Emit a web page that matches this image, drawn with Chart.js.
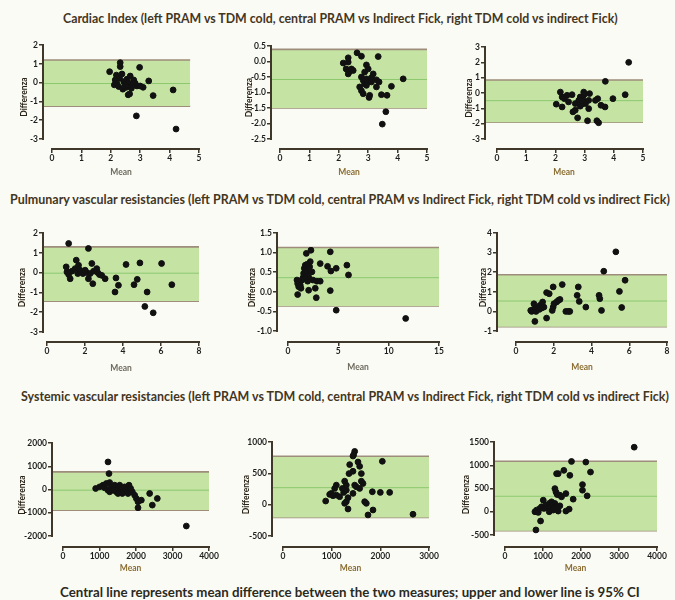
<!DOCTYPE html>
<html>
<head>
<meta charset="utf-8">
<script src="https://cdn.jsdelivr.net/npm/chart.js@4.4.1/dist/chart.umd.min.js"></script>
<style>
  html, body { margin: 0; padding: 0; background: #fbfbf6; }
  body { position: relative; width: 675px; height: 600px; overflow: hidden; font-family: Lato, "Open Sans", sans-serif; }
  .ttl { position: absolute; white-space: nowrap; font-weight: bold; line-height: 1; }
  canvas { position: absolute; }
</style>
</head>
<body>
<script>
// ---- data: [mean, difference] pairs ----
const ciLeft = [[1.96,0.58],[2.32,1.06],[2.32,0.85],[2.19,0.4],[2.15,0.14],[2.2,-0.03],[2.3,0.23],[2.38,0.46],
  [2.44,0.05],[2.49,-0.12],[2.55,0.18],[2.61,-0.03],[2.66,0.35],[2.72,-0.18],[2.78,0.14],[2.83,-0.03],[2.7,-0.3],
  [2.89,-0.18],[2.98,0.81],[3.0,-0.18],[3.1,-0.25],[2.64,-0.6],[2.59,-0.65],[3.29,0.09],[3.44,-0.69],[4.12,-0.39],
  [2.87,-1.77],[4.22,-2.47],[2.12,-0.12],[2.27,-0.21],[2.41,-0.35],[2.53,-0.25]];
const ciCentral = [[2.15,-0.05],[2.32,0.12],[2.32,-0.02],[2.25,-0.24],[2.35,-0.34],[2.43,-0.24],[2.49,-0.29],
  [2.32,-0.4],[2.62,0.28],[2.77,0.17],[2.94,-0.11],[3.0,-0.24],[2.88,-0.34],[2.77,-0.5],[2.83,-0.61],[2.94,-0.56],
  [3.0,-0.66],[2.88,-0.72],[2.71,-0.82],[2.77,-0.94],[2.83,-1.04],[3.05,-1.09],[3.03,-1.16],[3.11,-0.52],
  [3.17,-0.4],[3.28,-0.59],[3.34,0.16],[3.28,-0.82],[3.37,-0.66],[3.45,-1.07],[3.64,-1.09],[3.79,-0.8],
  [4.19,-0.56],[3.6,-1.62],[3.48,-2.02],[3.11,-0.66],[2.94,-0.77]];
const ciRight = [[4.51,2.0],[3.71,0.76],[4.39,-0.11],[3.97,-0.37],[2.03,-0.73],[2.17,0.06],[2.23,-0.26],
  [2.31,-0.37],[2.23,-0.91],[2.4,-0.15],[2.45,-0.58],[2.57,-0.11],[2.6,-1.23],[2.68,-1.12],[2.76,-1.62],
  [2.68,-0.69],[2.8,-0.48],[2.85,-0.86],[2.91,-0.26],[2.97,0.06],[2.99,-0.09],[2.94,-0.37],[2.97,-0.58],
  [3.03,-0.69],[2.91,-0.73],[3.14,-0.48],[3.14,-1.02],[3.1,-1.81],[3.17,-0.04],[3.37,-0.48],[3.45,-0.37],
  [3.42,-1.81],[3.48,-1.94],[3.56,-0.8],[3.7,-0.91],[2.85,-0.26],[2.91,-0.48]];

const pvrLeft = [[1.14,1.47],[2.18,1.22],[1.01,0.29],[1.05,0.03],[1.14,-0.1],[1.22,-0.31],[1.31,0.07],[1.48,0.2],
  [1.54,0.63],[1.66,0.37],[1.62,-0.05],[1.75,0.12],[1.89,-0.05],[2.01,0.12],[2.1,0],[2.18,-0.31],[2.27,-0.05],
  [2.36,0.46],[2.41,-0.56],[2.45,0.07],[2.62,0.2],[2.67,0],[2.76,-0.1],[2.88,-0.14],[3.06,-0.31],[3.58,-0.98],
  [3.63,-0.27],[3.76,-0.64],[4.16,0.41],[4.75,-0.34],[4.58,-0.61],[4.89,0.49],[5.27,-0.98],[5.15,-1.71],
  [5.59,-2.03],[6.03,0.46],[6.57,-0.61]];
const pvrCentral = [[0.96,-0.07],[0.89,0.3],[0.96,0.21],[1.06,0.13],[1.16,0.24],[1.22,0.17],[1.29,0.09],
  [1.39,0.3],[1.49,0.36],[1.55,0.47],[1.62,0.6],[1.72,0.68],[1.82,0.98],[1.88,0.51],[1.95,0.27],[2.05,0.38],
  [2.15,0.64],[2.21,0.77],[2.28,1.06],[2.05,0.04],[2.38,0.51],[2.48,0.3],[2.71,0.09],[2.81,-0.15],[2.87,0.27],
  [3.2,0.27],[3.2,0.72],[3.93,0.65],[4.2,1.02],[4.26,0.53],[4.2,0.03],[4.79,0.6],[4.79,-0.47],[5.85,0.68],
  [6.01,0.43],[11.69,-0.68],[1.72,0.51],[1.88,0.7]];
const pvrRight = [[5.29,3.04],[4.65,2.05],[5.78,1.59],[5.48,1.02],[5.6,0.2],[4.4,0.82],[4.44,0.65],[4.53,0.05],
  [3.3,1.25],[3.24,0.82],[3.35,0.51],[3.7,0.22],[2.45,1.37],[1.97,1.25],[1.62,0.96],[1.76,0.9],[1.62,-0.34],
  [1.0,-0.51],[0.78,0.05],[0.83,0.0],[0.92,0.1],[0.95,0.39],[1.06,0.0],[1.15,0.17],[1.23,0.1],[1.27,0.31],
  [1.36,0.17],[1.41,0.48],[1.48,0.22],[1.92,0.05],[1.97,0.22],[2.01,0.39],[2.15,0.48],[2.24,0.56],[2.33,0.61],
  [2.64,0],[2.77,0],[2.85,0]];

const svrLeft = [[1233,1186],[1260,686],[895,43],[1005,114],[1096,186],[1142,71],[1187,257],[1233,-29],
  [1279,300],[1279,-100],[1324,114],[1370,-29],[1416,186],[1461,-100],[1507,43],[1553,186],[1598,-29],
  [1626,-171],[1689,114],[1735,-29],[1781,-171],[1808,186],[1854,43],[1900,-100],[1963,-243],[2009,-386],
  [2055,-529],[2055,-786],[2146,-457],[2374,-171],[2447,-671],[2584,-386],[3379,-1571],[1416,-29],[1507,-171]];
const svrCentral = [[1473,850],[1452,797],[1438,776],[1370,639],[1356,496],[1438,533],[1541,681],[1575,612],
  [1610,496],[2041,692],[1610,375],[1644,338],[1267,375],[1301,312],[1096,312],[1062,259],[993,180],[959,164],
  [1027,143],[1096,153],[1164,127],[1219,259],[1247,195],[1301,232],[1301,48],[1336,111],[1267,21],[877,58],
  [1336,-69],[1438,180],[1473,312],[1507,285],[1575,259],[1678,48],[1712,21],[1747,-164],[1836,206],
  [1849,-85],[2000,196],[2192,196],[2671,-153]];
const svrRight = [[3400,1388],[1750,1082],[2127,1068],[2250,854],[1549,890],[1400,819],[1357,819],[1707,783],
  [2039,584],[2039,463],[2162,342],[1794,270],[1602,391],[1313,498],[1340,427],[1374,370],[1444,356],
  [1488,320],[1602,14],[1689,57],[814,-391],[936,-199],[788,0],[831,36],[875,-14],[919,71],[963,107],
  [1007,249],[1024,71],[1077,142],[1112,85],[1164,178],[1199,107],[1225,214],[1269,142],[1313,178],
  [1357,107],[1269,36],[1164,0],[1400,14],[1444,128]];

// limits of agreement: [upper, mean, lower]
const ciLimits = [[1.2, -0.05, -1.25], [0.39, -0.58, -1.5], [0.85, -0.5, -1.9]];
const pvrLimits = [[1.3, -0.03, -1.44], [1.13, 0.36, -0.36], [1.87, 0.53, -0.78]];
const svrLimits = [[760, -29, -886], [773, 271, -204], [1087, 333, -407]];

// tick labels
const ciYTicks = [[2, 1, 0, -1, -2, -3], [0.5, 0, -0.5, -1, -1.5, -2, -2.5], [3, 2, 1, 0, -1, -2, -3]];
const ciXTicks = [0, 1, 2, 3, 4, 5];
const pvrYTicks = [[2, 1, 0, -1, -2, -3], [1.5, 1, 0.5, 0, -0.5, -1], [4, 3, 2, 1, 0, -1]];
const pvrXTicks = [[0, 2, 4, 6, 8], [0, 5, 10, 15], [0, 2, 4, 6, 8]];
const svrYTicks = [[2000, 1000, 0, -1000, -2000], [1000, 500, 0, -500], [1500, 1000, 500, 0, -500]];
const svrXTicks = [[0, 1000, 2000, 3000, 4000], [0, 1000, 2000, 3000], [0, 1000, 2000, 3000, 4000]];

const rowTitles = [
  'Cardiac Index (left PRAM vs TDM cold, central PRAM vs Indirect Fick, right TDM cold vs indirect Fick)',
  'Pulmunary vascular resistancies  (left PRAM vs TDM cold, central PRAM vs Indirect Fick, right TDM cold vs indirect Fick)',
  'Systemic vascular resistancies (left PRAM vs TDM cold, central PRAM vs Indirect Fick, right TDM cold vs indirect Fick)'
];
const footNote = 'Central line represents mean difference between the two measures; upper and lower line is 95% CI';

// ---- layout ----
const axisCol = '#3f382a';
const bandFill = '#c5e4a4';
const limitCol = '#9d8d7a';
const meanCol = '#8cc86e';
const axisFont = { family: 'Lato', size: 8.5, weight: 'bold' };

// L: y-axis x, x0: x tick 0, xr: last x tick, T: top y tick, yb: bottom y tick, B: x-axis y,
// tg: distance of y title from axis, mg: distance of x title below axis
const panels = [
  { pts: ciLeft, lim: ciLimits[0], xt: ciXTicks, yt: ciYTicks[0], dec: 0, band: 4.7,
    L: 43, x0: 52, xr: 199, T: 45, yb: 139, B: 149, tg: 19, mg: 23, meanCol: '#6d6a5e' },
  { pts: ciCentral, lim: ciLimits[1], xt: ciXTicks, yt: ciYTicks[1], dec: 1,
    L: 271, x0: 280, xr: 427, T: 46, yb: 139, B: 149, tg: 22, mg: 23, meanCol: '#8a6d32' },
  { pts: ciRight, lim: ciLimits[2], xt: ciXTicks, yt: ciYTicks[2], dec: 0,
    L: 485, x0: 497, xr: 643, T: 47, yb: 139, B: 149, tg: 16, mg: 23, meanCol: '#8a6d32' },
  { pts: pvrLeft, lim: pvrLimits[0], xt: pvrXTicks[0], yt: pvrYTicks[0], dec: 0,
    L: 43, x0: 47, xr: 199, T: 233, yb: 332, B: 342, tg: 21, mg: 26, meanCol: '#6d6a5e' },
  { pts: pvrCentral, lim: pvrLimits[1], xt: pvrXTicks[1], yt: pvrYTicks[1], dec: 1,
    L: 277, x0: 288, xr: 439, T: 233, yb: 331, B: 342, tg: 25, mg: 25, meanCol: '#6d6a5e' },
  { pts: pvrRight, lim: pvrLimits[2], xt: pvrXTicks[2], yt: pvrYTicks[2], dec: 0,
    L: 497, x0: 516, xr: 667, T: 233, yb: 331, B: 342, tg: 14, mg: 25, meanCol: '#8a6d32' },
  { pts: svrLeft, lim: svrLimits[0], xt: svrXTicks[0], yt: svrYTicks[0], dec: 0,
    L: 52, x0: 63, xr: 209, T: 443, yb: 536, B: 547, tg: 30, mg: 21, meanCol: '#8a6d32' },
  { pts: svrCentral, lim: svrLimits[1], xt: svrXTicks[1], yt: svrYTicks[1], dec: 0,
    L: 272, x0: 283, xr: 429, T: 442, yb: 536, B: 547, tg: 26, mg: 21, meanCol: '#8a6d32' },
  { pts: svrRight, lim: svrLimits[2], xt: svrXTicks[2], yt: svrYTicks[2], dec: 0,
    L: 494, x0: 505, xr: 657, T: 442, yb: 535, B: 547, tg: 28, mg: 21, meanCol: '#8a6d32' }
];

// text rows: [text, left, right, centre y, colour]
const texts = [
  [rowTitles[0], 63, 618, 19, '#43361f'],
  [rowTitles[1], 10, 670, 200, '#43361f'],
  [rowTitles[2], 21, 669, 397, '#43361f'],
  [footNote, 60, 640, 593, '#2a2a1e']
];

texts.forEach(([txt, left, right, cy, col]) => {
  const d = document.createElement('div');
  d.className = 'ttl';
  d.textContent = txt;
  d.style.color = col;
  d.style.fontSize = '12px';
  document.body.appendChild(d);
  const w = d.getBoundingClientRect().width;
  const fs = 12 * (right - left) / w;
  d.style.fontSize = fs.toFixed(2) + 'px';
  const h = d.getBoundingClientRect().height;
  d.style.left = left + 'px';
  d.style.top = (cy - h / 2) + 'px';
});

// axis lines run from first to last tick only (Prism-style detached axes)
const axisLines = {
  id: 'axisLines',
  afterDraw(chart) {
    const { ctx, scales: { x, y } } = chart;
    const ys = y.ticks.map(t => y.getPixelForValue(t.value));
    const xs = x.ticks.map(t => x.getPixelForValue(t.value));
    ctx.save();
    ctx.strokeStyle = axisCol;
    ctx.lineWidth = 2;
    ctx.beginPath();
    ctx.moveTo(y.right, Math.min(...ys) - 1);
    ctx.lineTo(y.right, Math.max(...ys) + 1);
    ctx.moveTo(Math.min(...xs) - 1, x.top);
    ctx.lineTo(Math.max(...xs) + 1, x.top);
    ctx.stroke();
    ctx.restore();
  }
};

const PADL = 60, PADT = 10, PADR = 18, XH = 34;

panels.forEach(p => {
  const xMax = p.xt[p.xt.length - 1];
  const xMin = -(p.x0 - p.L) / (p.xr - p.x0) * xMax;
  const yTop = p.yt[0], yLow = p.yt[p.yt.length - 1];
  const yMin = yLow - (p.B - p.yb) / (p.yb - p.T) * (yTop - yLow);
  const bandEnd = p.band !== undefined ? p.band : xMax;

  const cv = document.createElement('canvas');
  const w = PADL + (p.xr - p.L) + PADR;
  const h = PADT + (p.B - p.T) + XH;
  cv.width = w; cv.height = h;
  cv.style.width = w + 'px'; cv.style.height = h + 'px';
  cv.style.left = (p.L - PADL) + 'px';
  cv.style.top = (p.T - PADT) + 'px';
  document.body.appendChild(cv);

  const lh = axisFont.size * 1.2;
  const seg = v => [{ x: xMin, y: v }, { x: bandEnd, y: v }];
  const fmt = v => p.dec ? Number(v).toFixed(p.dec) : String(v);

  new Chart(cv, {
    type: 'scatter',
    data: {
      datasets: [
        { data: p.pts.map(d => ({ x: d[0], y: d[1] })), backgroundColor: '#111', borderColor: '#111',
          pointRadius: 2.9, pointHoverRadius: 2.9, order: 0 },
        { type: 'line', data: seg(p.lim[0]), borderColor: limitCol, borderWidth: 1.6, pointRadius: 0,
          fill: '+2', backgroundColor: bandFill, order: 3 },
        { type: 'line', data: seg(p.lim[1]), borderColor: meanCol, borderWidth: 1, pointRadius: 0,
          fill: false, order: 2 },
        { type: 'line', data: seg(p.lim[2]), borderColor: limitCol, borderWidth: 1.6, pointRadius: 0,
          fill: false, order: 3 }
      ]
    },
    options: {
      responsive: false,
      animation: false,
      devicePixelRatio: 1,
      layout: { padding: { left: 0, top: PADT, right: PADR, bottom: 0 } },
      plugins: { legend: { display: false }, tooltip: { enabled: false } },
      scales: {
        x: {
          type: 'linear', position: 'bottom', min: xMin, max: xMax,
          afterBuildTicks: s => { s.ticks = p.xt.map(v => ({ value: v })); },
          afterFit: s => { s.height = XH; },
          border: { display: false },
          grid: { drawOnChartArea: false, drawTicks: true, tickLength: 4, color: axisCol, lineWidth: 1.5 },
          ticks: { padding: 0, color: '#1e1e1e', font: axisFont, maxRotation: 0, callback: v => String(v) },
          title: { display: true, text: 'Mean', color: p.meanCol, font: axisFont,
                   padding: { top: 0, bottom: XH - p.mg - lh / 2 } }
        },
        y: {
          type: 'linear', min: yMin, max: yTop,
          afterBuildTicks: s => { s.ticks = p.yt.map(v => ({ value: v })); },
          afterFit: s => { s.width = PADL; },
          border: { display: false },
          grid: { drawOnChartArea: false, drawTicks: true, tickLength: 4, color: axisCol, lineWidth: 1.5 },
          ticks: { padding: 1, color: '#1e1e1e', font: axisFont, callback: v => fmt(v) },
          title: { display: true, text: 'Differenza', color: '#2a2418', font: axisFont,
                   padding: { top: PADL - p.tg - lh / 2, bottom: 0 } }
        }
      }
    },
    plugins: [axisLines]
  });
});
</script>
</body>
</html>
